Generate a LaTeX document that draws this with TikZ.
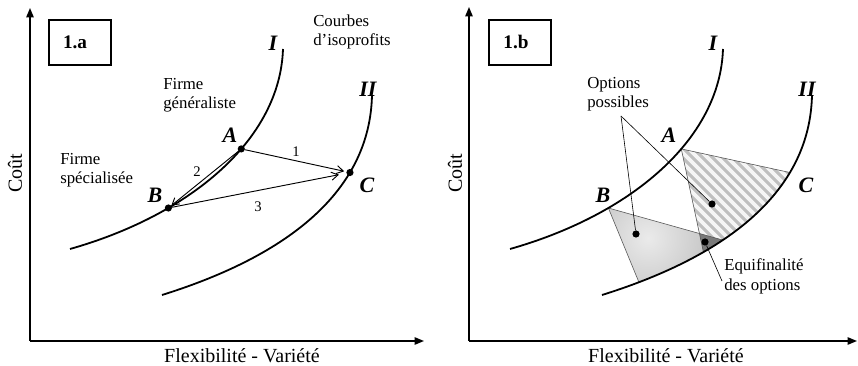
\documentclass[tikz,border=0pt]{standalone}
\usepackage{fontspec}
\setmainfont{Liberation Serif}
\usetikzlibrary{arrows.meta,calc}
\begin{document}
\begin{tikzpicture}[x=0.75pt,y=-0.75pt,
  axline/.style={line width=1.1pt,-{Triangle[length=7pt,width=5.5pt]}},
  curv/.style={line width=1.35pt},
  arrowline/.style={line width=0.7pt,-{Straight Barb[length=5pt,width=6pt]}},
  ptdot/.style={circle,fill=black,inner sep=0pt,minimum size=5.4pt},
  ptlab/.style={font=\fontsize{16.5}{16.5}\selectfont\bfseries\itshape,inner sep=0pt},
  txt/.style={font=\fontsize{12.6}{14.5}\selectfont,align=left,inner sep=0pt,anchor=west},
  num/.style={font=\fontsize{11}{11}\selectfont,inner sep=0pt},
  axlab/.style={font=\fontsize{15}{15}\selectfont,inner sep=0pt},
  boxst/.style={draw,line width=0.8pt,minimum width=46.5pt,minimum height=33.75pt,inner sep=0pt},
  boxtxt/.style={font=\fontsize{14.4}{14.4}\selectfont\bfseries,inner sep=0pt},
  triedge/.style={line width=0.45pt,draw=black!65},
  lead/.style={line width=0.45pt},
]
\useasboundingbox (0,0) rectangle (858,366);

% ---------------- Panel 1.a ----------------
\coordinate (o1) at (30,341); \coordinate (ya) at (30,8); \coordinate (xa) at (424,341);
\draw[axline] (o1) -- (ya);
\draw[axline] (o1) -- (xa);
\node[boxst] (box1) at (80,42.5) {};
\node[boxtxt] (t1a) at (75,42) {1.a};

\draw[curv] (70,249) .. controls (190,215) and (280,140) .. (283,49)
  coordinate[pos=0.3] (B1) coordinate[pos=0.6] (A1);
\draw[curv] (162,295) .. controls (290,255) and (370,190) .. (372,95)
  coordinate[pos=0.7] (C1);

\node[ptdot] (a1) at (A1) {};
\node[ptdot] (b1) at (B1) {};
\node[ptdot] (c1) at (C1) {};

\draw[arrowline,shorten >=1.5pt] (a1) -- (c1);
\draw[arrowline] (a1) -- (b1);
\draw[arrowline,shorten >=5.5pt] (b1) -- (c1);

\node[num] (n1) at (296,152) {1};
\node[num] (n2) at (197,172) {2};
\node[num] (n3) at (258,207) {3};

\node[ptlab] (lA1) at (230,135) {A};
\node[ptlab] (lB1) at (155,195) {B};
\node[ptlab] (lC1) at (367,185) {C};
\node[ptlab] (lI1) at (273,43) {I};
\node[ptlab] (lII1) at (368,89) {II};

\node[txt] (courbes) at (313,32) {Courbes\\d’isoprofits};
\node[txt] (gen) at (163,95) {Firme\\généraliste};
\node[txt] (spec) at (60,170.5) {Firme\\spécialisée};

\node[axlab,rotate=90] (cout1) at (15,173) {Coût};
\node[axlab,anchor=base] (flex1) at (242,362.5) {Flexibilité - Variété};

% ---------------- Panel 1.b ----------------
\coordinate (o2) at (469,341); \coordinate (yb) at (469,7); \coordinate (xb) at (857,341);
\draw[axline] (o2) -- (yb);
\draw[axline] (o2) -- (xb);
\node[boxst] (box2) at (520,42.5) {};
\node[boxtxt] (t1b) at (516,42) {1.b};

\path (510,249) .. controls (630,215) and (720,140) .. (723,49)
  coordinate[pos=0.3] (B2) coordinate[pos=0.6] (A2);
\path (602,295) .. controls (730,255) and (810,190) .. (812,95)
  coordinate[pos=0.1] (Q2) coordinate[pos=0.3] (L2)
  coordinate[pos=0.37] (P2) coordinate[pos=0.7] (C2);

\begin{scope}
  \clip (602,295) .. controls (730,255) and (810,190) .. (812,95)
        -- (812,0) -- (470,0) -- (470,295) -- cycle;
  % hatched region
  \begin{scope}
    \clip (A2) -- ($(A2)!1.3!(C2)$) -- ($(A2)!1.2!(L2)$) -- cycle;
    \fill[black!25] (660,130) rectangle (830,300);
    \foreach \k in {0,...,24}
      \draw[black!4,line width=2.7pt] (540+10*\k,120) -- ++(180,180);
  \end{scope}
  % gray region and overlap
  \begin{scope}
    \clip (B2) -- ($(B2)!1.2!(P2)$) -- ($(B2)!1.2!(Q2)$) -- cycle;
    \shade[inner color=black!8,outer color=black!30] (648,238) circle (95);
    \fill[black!52] (A2) -- ($(A2)!1.3!(C2)$) -- ($(A2)!1.2!(L2)$) -- cycle;
  \end{scope}
\end{scope}

\draw[triedge] (A2) -- (C2);
\draw[triedge] (A2) -- (L2);
\draw[triedge] (B2) -- (P2);
\draw[triedge] (B2) -- (Q2);

\draw[curv] (510,249) .. controls (630,215) and (720,140) .. (723,49);
\draw[curv] (602,295) .. controls (730,255) and (810,190) .. (812,95);

\node[ptdot] (d1) at (636,234) {};
\node[ptdot] (d2) at (712,204) {};
\node[ptdot] (d3) at (705,242) {};

\coordinate (opt) at (621,116);
\draw[lead] (opt) -- (d1);
\draw[lead] (opt) -- (d2);
\coordinate (eqf) at (722,281);
\draw[lead] (d3) -- (eqf);

\node[txt] (options) at (587,94.5) {Options\\possibles};
\node[txt] (equif) at (724,276.5) {Equifinalité\\des options};

\node[ptlab] (lA2) at (669,135) {A};
\node[ptlab] (lB2) at (603,195) {B};
\node[ptlab] (lC2) at (806,185) {C};
\node[ptlab] (lI2) at (713,43) {I};
\node[ptlab] (lII2) at (807,89) {II};

\node[axlab,rotate=90] (cout2) at (455,173) {Coût};
\node[axlab,anchor=base] (flex2) at (666,362.5) {Flexibilité - Variété};
\end{tikzpicture}
\end{document}
